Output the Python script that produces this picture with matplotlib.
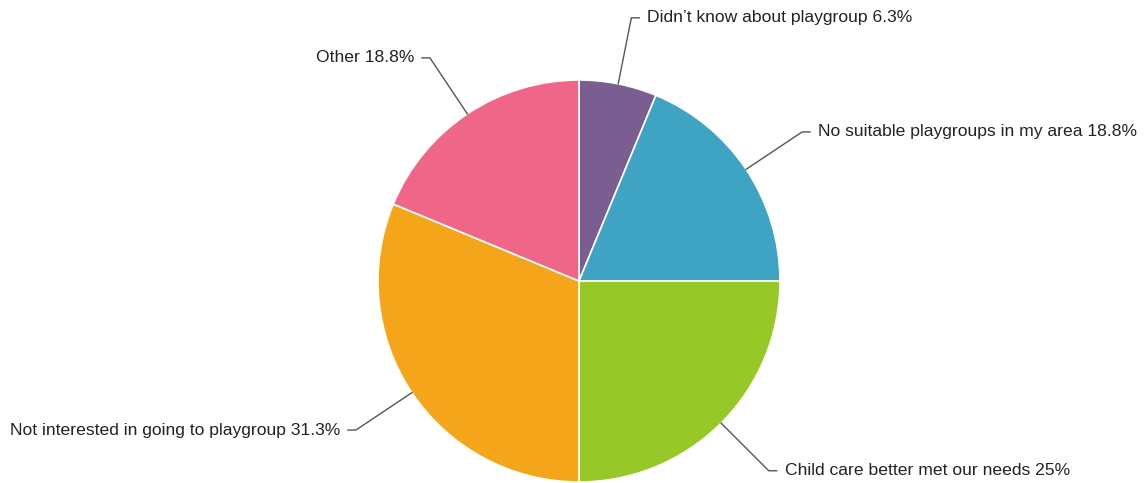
import matplotlib.pyplot as plt
import numpy as np

labels = ["Didn\u2019t know about playgroup", "No suitable playgroups in my area",
          "Child care better met our needs", "Not interested in going to playgroup", "Other"]
values = [6.25, 18.75, 25, 31.25, 18.75]
pct_text = ["6.3%", "18.8%", "25%", "31.3%", "18.8%"]
colors = ['#7b5e91', '#3fa3c4', '#96c928', '#f4a519', '#f06689']

W, H = 1144, 483
R = 201.0
cx, cy = 579, H - 281

fig = plt.figure(figsize=(W / 100, H / 100), dpi=100)
ax = fig.add_axes([0, 0, 1, 1])

wedges, _ = ax.pie(values, colors=colors, startangle=90, counterclock=False, radius=1,
                   wedgeprops=dict(edgecolor='white', linewidth=1.2))

# pie() resets the limits, so set them afterwards (201 px per unit)
ax.set_aspect('auto')
ax.set_xlim(-cx / R, (W - cx) / R)
ax.set_ylim(-cy / R, (H - cy) / R)
ax.axis('off')

# leader lines + labels
cum = np.cumsum([0] + values[:-1])
for i, v in enumerate(values):
    ang = np.deg2rad(90 - (cum[i] + v / 2) * 3.6)
    x0, y0 = np.cos(ang), np.sin(ang)
    x1, y1 = 1.335 * x0, 1.335 * y0
    side = 1 if x0 >= 0 else -1
    x2 = x1 + side * 8 / R
    ax.plot([x0, x1, x2], [y0, y1, y1], color='#555555', lw=1.0)
    ax.text(x2 + side * 8 / R, y1, labels[i] + ' ' + pct_text[i],
            ha='left' if side > 0 else 'right', va='center',
            fontsize=12.6, family='Liberation Sans', color='#222222')

fig.savefig('out.png', dpi=100)
